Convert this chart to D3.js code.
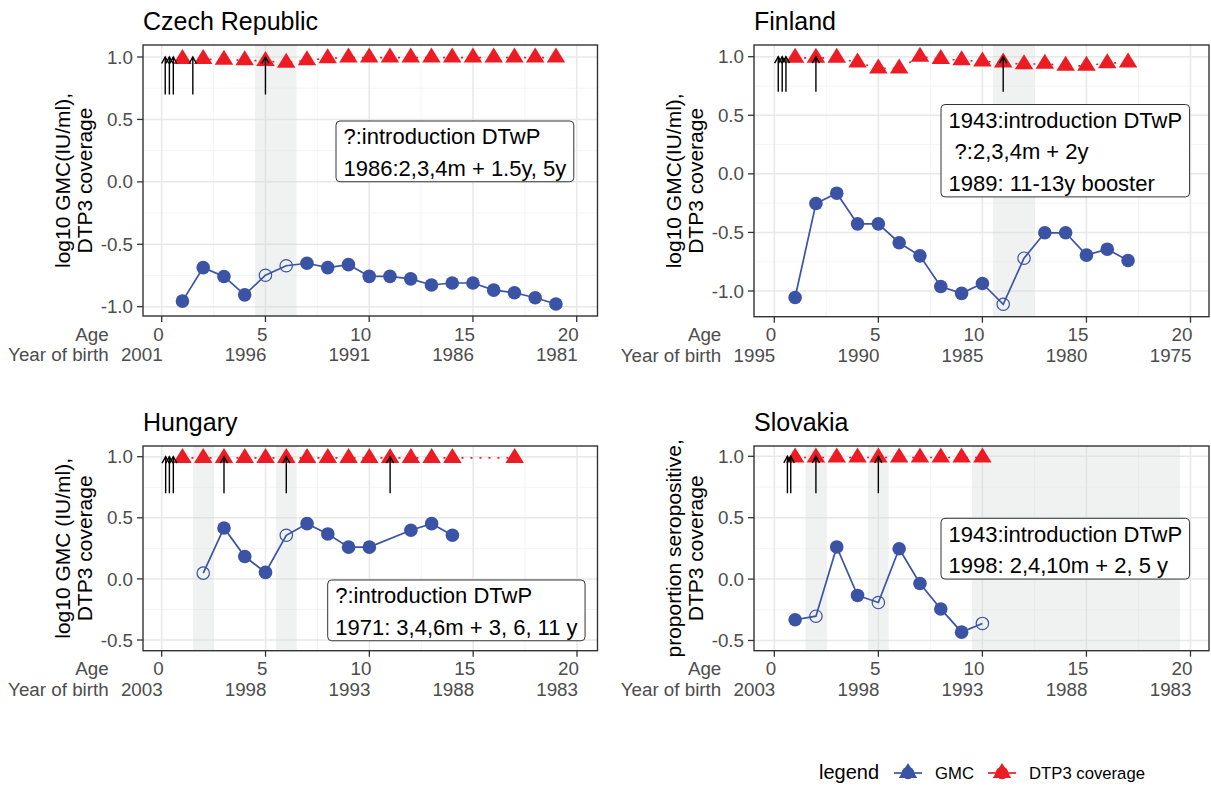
<!DOCTYPE html>
<html><head><meta charset="utf-8">
<script src="https://cdn.jsdelivr.net/npm/d3@7"></script>
<style>
body{margin:0;background:#fff}
svg{display:block}
text{font-family:"Liberation Sans",Arial,Helvetica,sans-serif}
</style>
</head><body>
<svg id="chart" width="1211" height="787"></svg>
<script>
// ---------------- DATA ----------------
const czTitle = "Czech Republic";
const czAge = [1,2,3,4,5,6,7,8,9,10,11,12,13,14,15,16,17,18,19];
const czGMC = [-0.955,-0.687,-0.758,-0.905,-0.748,-0.672,-0.652,-0.687,-0.663,-0.757,-0.757,-0.777,-0.826,-0.81,-0.81,-0.867,-0.888,-0.928,-0.978];
const czOpen = [5,6];
const czDTP3 = [0.983,0.983,0.978,0.974,0.968,0.953,0.974,0.989,0.995,0.995,0.995,0.995,0.995,0.995,0.995,0.995,0.995,0.995,0.995];
const czArrows = [0.17,0.37,0.56,1.5,5];
const czShade = [[4.5,6.5]];
const czBirth = 2001;
const czNote = ["?:introduction DTwP","1986:2,3,4m + 1.5y, 5y"];
const czYLab = ["log10 GMC(IU/ml),","DTP3 coverage"];

const fiTitle = "Finland";
const fiAge = [1,2,3,4,5,6,7,8,9,10,11,12,13,14,15,16,17];
const fiGMC = [-1.055,-0.253,-0.165,-0.427,-0.427,-0.588,-0.70,-0.962,-1.02,-0.936,-1.113,-0.72,-0.503,-0.503,-0.694,-0.643,-0.74];
const fiOpen = [11,12];
const fiDTP3 = [0.99,0.99,0.99,0.95,0.90,0.90,1.0,0.98,0.97,0.96,0.95,0.935,0.94,0.922,0.922,0.945,0.95];
const fiArrows = [0.19,0.38,0.56,2,11];
const fiShade = [[10.5,12.5]];
const fiBirth = 1995;
const fiNote = ["1943:introduction DTwP"," ?:2,3,4m + 2y","1989: 11-13y booster"];
const fiYLab = ["log10 GMC(IU/ml),","DTP3 coverage"];

const huTitle = "Hungary";
const huAge = [2,3,4,5,6,7,8,9,10,12,13,14];
const huGMC = [0.047,0.417,0.183,0.053,0.357,0.452,0.368,0.26,0.26,0.398,0.452,0.357];
const huOpen = [2,6];
const huDTP3Age = [1,2,3,4,5,6,7,8,9,10,11,12,13,14,17];
const huDTP3 = [0.99,0.99,0.99,0.99,0.99,0.99,0.99,0.99,0.99,0.99,0.99,0.99,0.99,0.99,0.99];
const huArrows = [0.19,0.37,0.56,3,6,11];
const huShade = [[1.5,2.5],[5.5,6.5]];
const huBirth = 2003;
const huNote = ["?:introduction DTwP","1971: 3,4,6m + 3, 6, 11 y"];
const huYLab = ["log10 GMC (IU/ml),","DTP3 coverage"];

const skTitle = "Slovakia";
const skAge = [1,2,3,4,5,6,7,8,9,10];
const skGMC = [-0.331,-0.302,0.262,-0.133,-0.191,0.247,-0.036,-0.243,-0.432,-0.361];
const skOpen = [2,5,10];
const skDTP3 = [0.99,0.99,0.99,0.99,0.99,0.99,0.99,0.99,0.99,0.99];
const skArrows = [0.63,0.79,2,5];
const skShade = [[1.5,2.5],[4.5,5.5],[9.5,19.5]];
const skBirth = 2003;
const skNote = ["1943:introduction DTwP","1998: 2,4,10m + 2, 5 y"];
const skYLab = ["proportion seropositive,","DTP3 coverage"];

const xTicks = [0,5,10,15,20];
const xMinor = [2.5,7.5,12.5,17.5];
const yTicksFull = [-1,-0.5,0,0.5,1];
const yTicksHalf = [-0.5,0,0.5,1];
const legendTitle = "legend";
const legendLabels = ["GMC","DTP3 coverage"];

// ---------------- LAYOUT ----------------
const BLUE = "#3a53a5", RED = "#ed1c24";
const TICKF = 18.8;
const panels = [
  {title:czTitle, age:czAge, gmc:czGMC, open:czOpen, dAge:czAge, dtp:czDTP3, arrows:czArrows, shade:czShade, birth:czBirth, note:czNote, ylab:czYLab,
   yt:yTicksFull, L:143, R:597.5, T:45, B:316, x0:161.7, x20:576.7, yTop:[1,57], yBot:[-1,306.7], noteX:336, noteY:121, titleY:30},
  {title:fiTitle, age:fiAge, gmc:fiGMC, open:fiOpen, dAge:fiAge, dtp:fiDTP3, arrows:fiArrows, shade:fiShade, birth:fiBirth, note:fiNote, ylab:fiYLab,
   yt:yTicksFull, L:754, R:1209, T:45, B:316.7, x0:774.3, x20:1190.5, yTop:[1,56.7], yBot:[-1,291], noteX:941, noteY:104.5, titleY:30},
  {title:huTitle, age:huAge, gmc:huGMC, open:huOpen, dAge:huDTP3Age, dtp:huDTP3, arrows:huArrows, shade:huShade, birth:huBirth, note:huNote, ylab:huYLab,
   yt:yTicksHalf, L:143, R:597.5, T:446, B:650.7, x0:161.7, x20:577, yTop:[1,456.7], yBot:[-0.5,640], noteX:327.7, noteY:580, titleY:431},
  {title:skTitle, age:skAge, gmc:skGMC, open:skOpen, dAge:skAge, dtp:skDTP3, arrows:skArrows, shade:skShade, birth:skBirth, note:skNote, ylab:skYLab,
   yt:yTicksHalf, L:754, R:1209, T:446, B:650.7, x0:774.3, x20:1190.5, yTop:[1,456.3], yBot:[-0.5,640.5], noteX:941, noteY:518.3, titleY:431}
];

const svg = d3.select("#chart");
const triW = 18.5, triH = 15;
const triangleType = { draw(ctx){ ctx.moveTo(0,-2*triH/3); ctx.lineTo(triW/2,triH/3); ctx.lineTo(-triW/2,triH/3); ctx.closePath(); } };
const triSym = d3.symbol(triangleType);

panels.forEach((p,i)=>{
  const x = d3.scaleLinear().domain([0,20]).range([p.x0,p.x20]);
  const y = d3.scaleLinear().domain([p.yBot[0],p.yTop[0]]).range([p.yBot[1],p.yTop[1]]);
  const g = svg.append("g");
  const cid = "clip"+i;
  svg.append("clipPath").attr("id",cid).append("rect").attr("x",p.L).attr("y",p.T).attr("width",p.R-p.L).attr("height",p.B-p.T);
  const pg = g.append("g").attr("clip-path",`url(#${cid})`);
  // grid
  const yMinor = p.yt.slice(0,-1).map((v,k)=>(v+p.yt[k+1])/2).concat([p.yt[0]-0.25]);
  pg.selectAll(".xmn").data(xMinor).join("line").attr("x1",d=>x(d)).attr("x2",d=>x(d)).attr("y1",p.T).attr("y2",p.B).attr("stroke","#f1f1f1").attr("stroke-width",0.8);
  pg.selectAll(".ymn").data(yMinor).join("line").attr("y1",d=>y(d)).attr("y2",d=>y(d)).attr("x1",p.L).attr("x2",p.R).attr("stroke","#f1f1f1").attr("stroke-width",0.8);
  pg.selectAll(".xmj").data(xTicks).join("line").attr("x1",d=>x(d)).attr("x2",d=>x(d)).attr("y1",p.T).attr("y2",p.B).attr("stroke","#e8e8e8").attr("stroke-width",1.5);
  pg.selectAll(".ymj").data(p.yt).join("line").attr("y1",d=>y(d)).attr("y2",d=>y(d)).attr("x1",p.L).attr("x2",p.R).attr("stroke","#e8e8e8").attr("stroke-width",1.5);
  // shading
  pg.selectAll(".sh").data(p.shade).join("rect").attr("x",d=>x(d[0])).attr("width",d=>x(d[1])-x(d[0])).attr("y",p.T).attr("height",p.B-p.T)
    .attr("fill","#d5dada").attr("fill-opacity",0.35);
  // DTP3 dotted line
  const dtpData = p.dAge.map((a,k)=>({a, v:p.dtp[k]}));
  pg.append("path").datum(dtpData).attr("d",d3.line().x(d=>x(d.a)).y(d=>y(d.v))).attr("fill","none").attr("stroke",RED).attr("stroke-width",1.6).attr("stroke-dasharray","2 7");
  // GMC line
  const gData = p.age.map((a,k)=>({a, v:p.gmc[k], open:p.open.includes(a)}));
  pg.append("path").datum(gData).attr("d",d3.line().x(d=>x(d.a)).y(d=>y(d.v))).attr("fill","none").attr("stroke",BLUE).attr("stroke-width",1.7);
  // GMC points
  pg.selectAll(".pt").data(gData).join("circle").attr("cx",d=>x(d.a)).attr("cy",d=>y(d.v)).attr("r",d=>d.open?6.2:6.8)
    .attr("fill",d=>d.open?"none":BLUE).attr("stroke",BLUE).attr("stroke-width",d=>d.open?1.2:0);
  // triangles
  pg.selectAll(".tr").data(dtpData).join("path").attr("d",triSym).attr("transform",d=>`translate(${x(d.a)},${y(d.v)})`).attr("fill",RED);
  // arrows
  p.arrows.forEach(a=>{
    const ax = x(a), y0 = y(0.7), y1 = y(1.0);
    pg.append("line").attr("x1",ax).attr("x2",ax).attr("y1",y0).attr("y2",y1).attr("stroke","#000").attr("stroke-width",1.4);
    pg.append("path").attr("d",`M${ax-3.6},${y1+6.5}L${ax},${y1}L${ax+3.6},${y1+6.5}`).attr("fill","none").attr("stroke","#000").attr("stroke-width",1.4);
  });
  // border
  g.append("rect").attr("x",p.L).attr("y",p.T).attr("width",p.R-p.L).attr("height",p.B-p.T).attr("fill","none").attr("stroke","#333").attr("stroke-width",1.4);
  // y ticks
  p.yt.forEach(v=>{
    g.append("line").attr("x1",p.L-6).attr("x2",p.L).attr("y1",y(v)).attr("y2",y(v)).attr("stroke","#333").attr("stroke-width",1.3);
    g.append("text").attr("x",p.L-10).attr("y",y(v)+6.6).attr("text-anchor","end").attr("font-size",TICKF).attr("fill","#4d4d4d").text(d3.format(".1f")(v).replace("−","-"));
  });
  // x ticks
  xTicks.forEach(v=>{
    g.append("line").attr("x1",x(v)).attr("x2",x(v)).attr("y1",p.B).attr("y2",p.B+6).attr("stroke","#333").attr("stroke-width",1.3);
    g.append("text").attr("x",x(v)+2).attr("y",p.B+24.7).attr("text-anchor","end").attr("font-size",TICKF).attr("fill","#4d4d4d").text(v);
    g.append("text").attr("x",x(v)+1).attr("y",p.B+45).attr("text-anchor","end").attr("font-size",TICKF).attr("fill","#4d4d4d").text(p.birth - v);
  });
  g.append("text").attr("x",p.x0-53).attr("y",p.B+24.7).attr("text-anchor","end").attr("font-size",TICKF).attr("fill","#4d4d4d").text("Age");
  g.append("text").attr("x",p.x0-53).attr("y",p.B+45).attr("text-anchor","end").attr("font-size",TICKF).attr("fill","#4d4d4d").text("Year of birth");
  // y title
  const cy = (p.T+p.B)/2;
  [p.L-73, p.L-51].forEach((bx,k)=>{
    g.append("text").attr("transform",`translate(${bx},${cy}) rotate(-90)`).attr("text-anchor","middle").attr("font-size",21).attr("fill","#000").text(p.ylab[k]);
  });
  // title
  g.append("text").attr("x",p.L).attr("y",p.titleY).attr("font-size",25).attr("fill","#000").text(p.title);
  // note box
  const ng = g.append("g");
  const lines = p.note.map((t,k)=>ng.append("text").attr("x",p.noteX+7.5).attr("y",p.noteY+15.7+k*31.65+7.6).attr("font-size",22).attr("fill","#000").attr("xml:space","preserve").style("white-space","pre").text(t));
  const w = d3.max(lines, l=>l.node().getComputedTextLength()) + 15;
  const h = 15.7 + (p.note.length-1)*31.65 + 13.4;
  ng.insert("rect","text").attr("x",p.noteX).attr("y",p.noteY).attr("width",w).attr("height",h).attr("rx",4).attr("fill","#fff").attr("stroke","#333").attr("stroke-width",1);
});

// legend
const lg = svg.append("g");
lg.append("text").attr("x",819).attr("y",779).attr("font-size",20).text(legendTitle);
const keys = [{c:BLUE, x:894, tx:935},{c:RED, x:988, tx:1029}];
keys.forEach((k,i)=>{
  lg.append("line").attr("x1",k.x).attr("x2",k.x+28).attr("y1",773).attr("y2",773).attr("stroke",k.c).attr("stroke-width",1.7);
  lg.append("circle").attr("cx",k.x+14).attr("cy",773).attr("r",6.2).attr("fill",k.c);
  lg.append("path").attr("d",triSym).attr("transform",`translate(${k.x+14},773)`).attr("fill",k.c);
  lg.append("text").attr("x",k.tx).attr("y",779).attr("font-size",16.7).text(legendLabels[i]);
});
</script>
</body></html>
